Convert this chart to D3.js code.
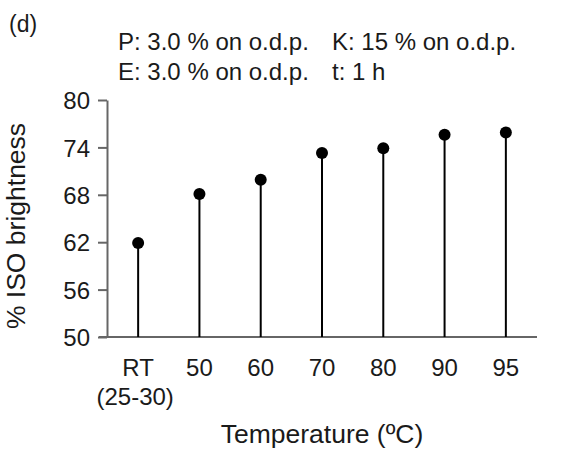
<!DOCTYPE html>
<html><head><meta charset="utf-8">
<script src="https://cdn.jsdelivr.net/npm/d3@7"></script>
<style>body{margin:0;background:#fff}svg{display:block}text{font-family:"Liberation Sans",Arial,sans-serif;fill:#1a1a1a}</style>
</head><body>
<script>
const categories = ["RT", "50", "60", "70", "80", "90", "95"];
const subLabels = ["(25-30)", "", "", "", "", "", ""];
const brightness = [61.9, 68.1, 69.9, 73.3, 73.9, 75.6, 75.9];
const yTicks = [50, 56, 62, 68, 74, 80];
const headerLines = [["P: 3.0 % on o.d.p.", "K: 15 % on o.d.p."], ["E: 3.0 % on o.d.p.", "t: 1 h"]];

const W = 564, H = 450;
const svg = d3.select("body").append("svg").attr("width", W).attr("height", H);
const x = d3.scalePoint().domain(categories).range([107.5, 536.5]).padding(0.5);
const y = d3.scaleLinear().domain([50, 80]).range([337, 100]);

// y axis
const gy = svg.append("g").attr("transform", "translate(107,0)")
  .call(d3.axisLeft(y).tickValues(yTicks).tickSize(9).tickPadding(8).tickSizeOuter(0));
gy.select(".domain").attr("stroke", "#666").attr("stroke-width", 2);
gy.selectAll(".tick line").attr("stroke", "#666").attr("stroke-width", 2);
gy.selectAll(".tick text").style("font-size", "24px").style("font-family", "'Liberation Sans', Arial, sans-serif").attr("fill", "#1a1a1a").attr("dy", "0.36em");

// x axis line
svg.append("line").attr("x1", 99).attr("x2", 537).attr("y1", y(50)).attr("y2", y(50))
  .attr("stroke", "#666").attr("stroke-width", 2);

// stems
svg.selectAll(".stem").data(categories).enter().append("line")
  .attr("x1", d => x(d)).attr("x2", d => x(d))
  .attr("y1", y(50)).attr("y2", (d, i) => y(brightness[i]))
  .attr("stroke", "#000").attr("stroke-width", 2);
svg.selectAll(".dot").data(categories).enter().append("circle")
  .attr("cx", d => x(d)).attr("cy", (d, i) => y(brightness[i])).attr("r", 6).attr("fill", "#000");

// x labels
svg.selectAll(".xl").data(categories).enter().append("text")
  .attr("x", d => x(d)).attr("y", 376).attr("text-anchor", "middle").style("font-size", "24px").text(d => d);
svg.selectAll(".xl2").data(categories).enter().append("text")
  .attr("x", d => x(d) - 3).attr("y", 405).attr("text-anchor", "middle").style("font-size", "24px").text((d, i) => subLabels[i]);

svg.append("text").attr("x", 322).attr("y", 443).attr("text-anchor", "middle").style("font-size", "26.5px").text("Temperature (ºC)");
svg.append("text").attr("transform", "translate(25,226) rotate(-90)").attr("text-anchor", "middle").style("font-size", "26.5px").text("% ISO brightness");

svg.append("text").attr("x", 9).attr("y", 32).style("font-size", "23px").text("(d)");
headerLines.forEach((ln, i) => {
  svg.append("text").attr("x", 118).attr("y", 50 + i * 30).style("font-size", "24px").text(ln[0]);
  svg.append("text").attr("x", 332).attr("y", 50 + i * 30).style("font-size", "24px").text(ln[1]);
});
</script>
</body></html>
